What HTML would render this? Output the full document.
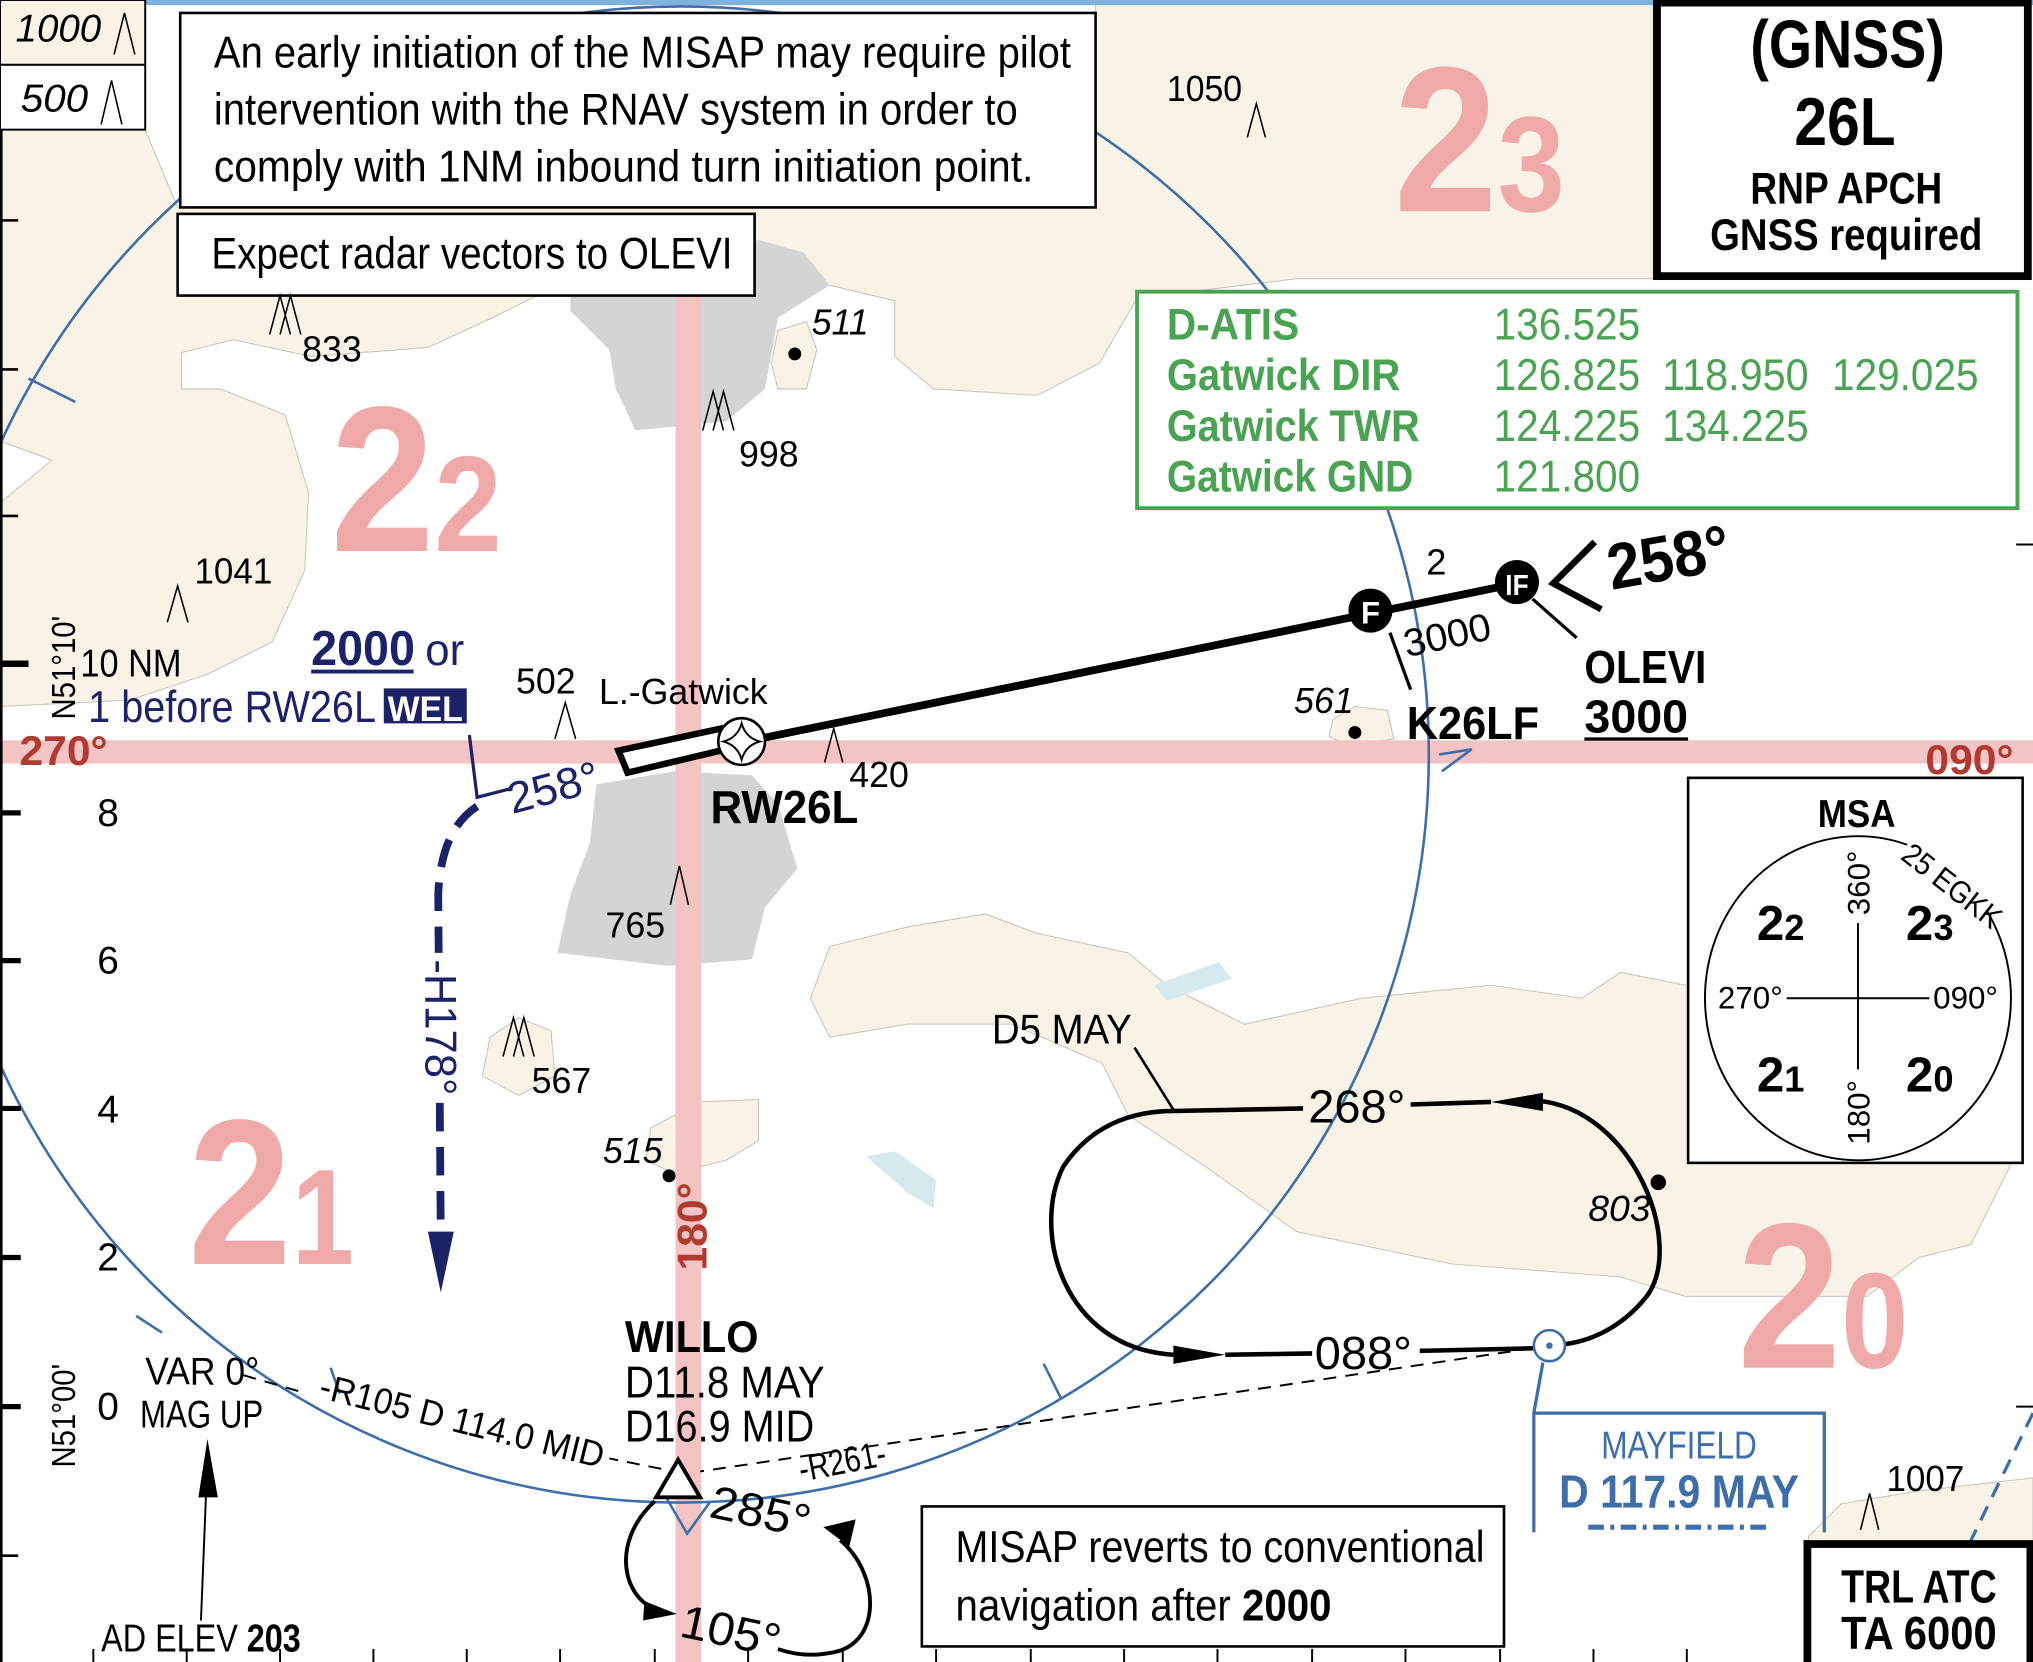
<!DOCTYPE html>
<html><head><meta charset="utf-8"><style>
html,body{margin:0;padding:0;background:#fff;width:2033px;height:1662px;overflow:hidden}
svg{display:block}
text{font-family:"Liberation Sans Narrow","Liberation Sans",sans-serif}
</style></head><body>
<svg width="2033" height="1662" viewBox="0 0 1568 1282" preserveAspectRatio="none" xmlns="http://www.w3.org/2000/svg">
<rect width="1568" height="1282" fill="#fff"/>
<g fill="#f8f3e6" stroke="#c8c4bb" stroke-width="0.8">
<path d="M0,100 L112,100 L137,160 L845,160 L845,0 L1275,0 L1275,215 L1000,215 L877,230 L848,280 L800,305 L720,300 L690,275 L690,232 L640,220 L440,215 L380,245 L330,268 L240,275 L180,262 L140,272 L140,300 L170,300 L220,320 L238,380 L235,440 L210,495 L160,520 L100,540 L0,545 L0,388 L40,355 L0,340 Z"/>
<path d="M625,770 L640,730 L700,715 L760,705 L800,720 L870,735 L900,760 L960,790 L1050,770 L1150,760 L1220,770 L1250,750 L1300,760 L1560,760 L1560,880 L1520,960 L1480,970 L1440,1000 L1300,1000 L1250,985 L1120,975 L1000,950 L930,900 L870,860 L850,820 L780,790 L700,790 L640,800 Z"/>
<path d="M600,255 L622,248 L630,270 L622,300 L600,300 L595,280 Z"/>
<path d="M1028,555 L1045,545 L1070,548 L1075,570 L1040,575 L1025,568 Z"/>
<path d="M378,800 L400,785 L425,795 L428,830 L400,845 L372,830 Z"/>
<path d="M502,870 L540,850 L585,848 L585,880 L560,895 L520,905 L498,895 Z"/>
<path d="M1395,1185 L1420,1160 L1480,1150 L1568,1140 L1568,1190 L1395,1190 Z"/>
</g>
<g fill="#d4d4d4">
<path d="M440,215 L470,205 L560,200 L585,185 L620,195 L640,220 L600,245 L590,300 L560,325 L490,332 L475,300 L470,270 L440,240 Z"/>
<path d="M460,605 L520,595 L580,598 L600,620 L615,670 L590,700 L580,740 L515,745 L430,735 L440,690 L455,650 Z"/>
</g>
<g fill="#d6e9ec">
<path d="M890,760 L940,742 L950,755 L900,772 Z"/>
<path d="M668,892 L690,888 L722,910 L720,932 L700,920 Z"/>
</g>
<rect x="521" y="200" width="20" height="1082" fill="#f4c3c3"/>
<rect x="0" y="571" width="1568" height="18" fill="#f4c3c3"/>
<rect x="0" y="0" width="1568" height="4" fill="#7fb2dc"/>
<g fill="#f0a9a9" font-weight="bold">
<text x="255" y="425" font-size="160" textLength="80" lengthAdjust="spacingAndGlyphs">2</text><text x="335" y="425" font-size="105" textLength="52" lengthAdjust="spacingAndGlyphs">2</text>
<text x="1075" y="163" font-size="160" textLength="80" lengthAdjust="spacingAndGlyphs">2</text><text x="1155" y="163" font-size="105" textLength="52" lengthAdjust="spacingAndGlyphs">3</text>
<text x="145" y="975" font-size="160" textLength="80" lengthAdjust="spacingAndGlyphs">2</text><text x="225" y="975" font-size="105" textLength="48" lengthAdjust="spacingAndGlyphs">1</text>
<text x="1340" y="1055" font-size="160" textLength="80" lengthAdjust="spacingAndGlyphs">2</text><text x="1420" y="1055" font-size="105" textLength="52" lengthAdjust="spacingAndGlyphs">0</text>
</g>
<circle cx="525" cy="582" r="577" fill="none" stroke="#3d6eaa" stroke-width="2"/>
<g stroke="#3d6eaa" stroke-width="2" fill="none">
<line x1="22" y1="292" x2="58" y2="310"/>
<line x1="105" y1="1015" x2="125" y2="1028"/>
<line x1="255" y1="1055" x2="262" y2="1075"/>
<line x1="805" y1="1052" x2="818" y2="1078"/>
<polyline points="1110,582 1135,578 1112,595"/>
<polyline points="512,1152 530,1183 548,1158"/>
</g>
<g stroke="#000" stroke-width="2">
<line x1="1" y1="100" x2="1" y2="1282"/>
<line x1="0" y1="170" x2="14" y2="170"/><line x1="0" y1="285" x2="14" y2="285"/><line x1="0" y1="398" x2="14" y2="398"/>
<line x1="0" y1="512" x2="22" y2="512" stroke-width="5"/><line x1="0" y1="627" x2="16" y2="627" stroke-width="4"/>
<line x1="0" y1="741" x2="16" y2="741" stroke-width="4"/><line x1="0" y1="855" x2="16" y2="855" stroke-width="4"/>
<line x1="0" y1="970" x2="16" y2="970" stroke-width="4"/><line x1="0" y1="1085" x2="16" y2="1085" stroke-width="4"/>
<line x1="0" y1="1200" x2="14" y2="1200"/>
</g>
<g stroke="#000" stroke-width="1.5">
<line x1="72" y1="1272" x2="72" y2="1282"/><line x1="144" y1="1272" x2="144" y2="1282"/><line x1="216" y1="1272" x2="216" y2="1282"/><line x1="288" y1="1272" x2="288" y2="1282"/><line x1="360" y1="1272" x2="360" y2="1282"/><line x1="432" y1="1272" x2="432" y2="1282"/><line x1="505" y1="1272" x2="505" y2="1282"/><line x1="577" y1="1272" x2="577" y2="1282"/><line x1="650" y1="1272" x2="650" y2="1282"/><line x1="722" y1="1272" x2="722" y2="1282"/><line x1="795" y1="1272" x2="795" y2="1282"/><line x1="867" y1="1272" x2="867" y2="1282"/><line x1="939" y1="1272" x2="939" y2="1282"/><line x1="1012" y1="1272" x2="1012" y2="1282"/><line x1="1084" y1="1272" x2="1084" y2="1282"/><line x1="1157" y1="1272" x2="1157" y2="1282"/><line x1="1229" y1="1272" x2="1229" y2="1282"/><line x1="1301" y1="1272" x2="1301" y2="1282"/>
<line x1="1555" y1="420" x2="1568" y2="420"/><line x1="1555" y1="1085" x2="1568" y2="1085"/><line x1="1555" y1="1200" x2="1568" y2="1200"/>
</g>
<g font-size="30" fill="#000">
<text x="62" y="522" textLength="78" lengthAdjust="spacingAndGlyphs">10 NM</text><text x="75" y="637">8</text><text x="75" y="751">6</text><text x="75" y="866">4</text><text x="75" y="980">2</text><text x="75" y="1095">0</text>
</g>
<text transform="translate(58,555) rotate(-90)" font-size="26" textLength="80" lengthAdjust="spacingAndGlyphs">N51°10'</text>
<text transform="translate(58,1132) rotate(-90)" font-size="26" textLength="80" lengthAdjust="spacingAndGlyphs">N51°00'</text>
<rect x="0" y="0" width="112" height="50" fill="#f8f3e6" stroke="#000" stroke-width="1.5"/>
<rect x="0" y="50" width="112" height="50" fill="#fff" stroke="#000" stroke-width="1.5"/>
<text x="12" y="32" font-size="30" font-style="italic" textLength="66" lengthAdjust="spacingAndGlyphs">1000</text>
<text x="16" y="86" font-size="30" font-style="italic" textLength="52" lengthAdjust="spacingAndGlyphs">500</text>
<g stroke="#000" stroke-width="1.2" fill="none">
<polyline points="88,42 96,10 104,42"/><polyline points="78,96 86,62 94,96"/>
</g>
<rect x="139" y="10" width="706" height="150" fill="#fff" stroke="#000" stroke-width="2"/>
<g font-size="34"><text x="165" y="52" textLength="661" lengthAdjust="spacingAndGlyphs">An early initiation of the MISAP may require pilot</text>
<text x="165" y="96" textLength="620" lengthAdjust="spacingAndGlyphs">intervention with the RNAV system in order to</text>
<text x="165" y="140" textLength="632" lengthAdjust="spacingAndGlyphs">comply with 1NM inbound turn initiation point.</text></g>
<rect x="137" y="165" width="445" height="63" fill="#fff" stroke="#000" stroke-width="2"/>
<text x="163" y="207" font-size="34" textLength="402" lengthAdjust="spacingAndGlyphs">Expect radar vectors to OLEVI</text>
<rect x="1278" y="2" width="286" height="211" fill="#fff" stroke="#000" stroke-width="6"/>
<g font-weight="bold" text-anchor="middle"><text x="1425" y="52" font-size="52" textLength="150" lengthAdjust="spacingAndGlyphs">(GNSS)</text><text x="1423" y="112" font-size="52" textLength="78" lengthAdjust="spacingAndGlyphs">26L</text>
<text x="1424" y="157" font-size="34" textLength="148" lengthAdjust="spacingAndGlyphs">RNP APCH</text><text x="1424" y="193" font-size="34" textLength="210" lengthAdjust="spacingAndGlyphs">GNSS required</text></g>
<rect x="877" y="225" width="679" height="167" fill="#fff" stroke="#4aa352" stroke-width="3"/>
<g fill="#4aa352" font-size="34"><g font-weight="bold"><text x="900" y="262" textLength="102" lengthAdjust="spacingAndGlyphs">D-ATIS</text><text x="900" y="301" textLength="180" lengthAdjust="spacingAndGlyphs">Gatwick DIR</text><text x="900" y="340" textLength="195" lengthAdjust="spacingAndGlyphs">Gatwick TWR</text><text x="900" y="379" textLength="190" lengthAdjust="spacingAndGlyphs">Gatwick GND</text></g>
<text x="1152" y="262" textLength="113" lengthAdjust="spacingAndGlyphs">136.525</text><text x="1152" y="301" textLength="113" lengthAdjust="spacingAndGlyphs">126.825</text><text x="1282" y="301" textLength="113" lengthAdjust="spacingAndGlyphs">118.950</text><text x="1413" y="301" textLength="113" lengthAdjust="spacingAndGlyphs">129.025</text>
<text x="1152" y="340" textLength="113" lengthAdjust="spacingAndGlyphs">124.225</text><text x="1282" y="340" textLength="113" lengthAdjust="spacingAndGlyphs">134.225</text><text x="1152" y="379" textLength="113" lengthAdjust="spacingAndGlyphs">121.800</text></g>
<g stroke="#000" stroke-width="1.2" fill="none">
<polyline points="962,106 969,80 976,106"/><polyline points="208,258 216,228 224,258"/><polyline points="216,258 224,228 232,258"/>
<polyline points="542,332 550,302 558,332"/><polyline points="550,332 558,302 566,332"/>
<polyline points="129,480 137,452 145,480"/><polyline points="428,570 436,542 444,570"/><polyline points="636,588 643,562 650,588"/>
<polyline points="517,698 524,668 531,698"/><polyline points="388,815 396,785 404,815"/><polyline points="396,815 404,785 412,815"/>
<polyline points="1435,1180 1442,1152 1449,1180"/>
</g>
<g font-size="28">
<text x="900" y="78" textLength="58" lengthAdjust="spacingAndGlyphs">1050</text><text x="233" y="279" textLength="46" lengthAdjust="spacingAndGlyphs">833</text><text x="570" y="360" textLength="46" lengthAdjust="spacingAndGlyphs">998</text><text x="150" y="450" textLength="60" lengthAdjust="spacingAndGlyphs">1041</text>
<text x="398" y="535" textLength="46" lengthAdjust="spacingAndGlyphs">502</text><text x="462" y="543" textLength="130" lengthAdjust="spacingAndGlyphs">L.-Gatwick</text><text x="655" y="607" textLength="46" lengthAdjust="spacingAndGlyphs">420</text><text x="467" y="723" textLength="46" lengthAdjust="spacingAndGlyphs">765</text>
<text x="410" y="843" textLength="46" lengthAdjust="spacingAndGlyphs">567</text><text x="1455" y="1150" textLength="60" lengthAdjust="spacingAndGlyphs">1007</text>
<g font-style="italic"><text x="626" y="258" textLength="44" lengthAdjust="spacingAndGlyphs">511</text><text x="998" y="550" textLength="46" lengthAdjust="spacingAndGlyphs">561</text><text x="465" y="897" textLength="46" lengthAdjust="spacingAndGlyphs">515</text><text x="1225" y="942" textLength="48" lengthAdjust="spacingAndGlyphs">803</text></g>
</g>
<g fill="#000"><circle cx="613" cy="273" r="5"/><circle cx="1045" cy="565" r="5"/><circle cx="516" cy="907" r="5"/><circle cx="1279" cy="912" r="6"/></g>
<g fill="#b03a30" font-weight="bold" font-size="32"><text x="15" y="590" textLength="68" lengthAdjust="spacingAndGlyphs">270°</text><text x="1485" y="597" textLength="68" lengthAdjust="spacingAndGlyphs">090°</text>
<text transform="translate(545,980) rotate(-90)" textLength="68" lengthAdjust="spacingAndGlyphs">180°</text></g>
<line x1="575" y1="572" x2="1170" y2="450" stroke="#000" stroke-width="6"/>
<polygon points="477,579 556,562 560,578 484,596" fill="#fff" stroke="#000" stroke-width="5"/>
<circle cx="572" cy="572" r="18" fill="#fff" stroke="#000" stroke-width="2"/>
<path d="M572,558 Q575,569 586,572 Q575,575 572,586 Q569,575 558,572 Q569,569 572,558Z" fill="none" stroke="#000" stroke-width="1.5"/>
<circle cx="1057" cy="471" r="17" fill="#000"/><text x="1057" y="481" font-size="24" font-weight="bold" fill="#fff" text-anchor="middle">F</text>
<circle cx="1170" cy="449" r="17" fill="#000"/><text x="1170" y="459" font-size="22" font-weight="bold" fill="#fff" text-anchor="middle" textLength="18" lengthAdjust="spacingAndGlyphs">IF</text>
<g stroke="#000" stroke-width="2.5"><line x1="1072" y1="488" x2="1088" y2="532"/><line x1="1182" y1="462" x2="1216" y2="492"/></g>
<polyline points="1230,418 1198,450 1235,470" fill="none" stroke="#000" stroke-width="5"/>
<text x="1100" y="443" font-size="28">2</text>
<text transform="translate(1085,507) rotate(-12)" font-size="30" textLength="68" lengthAdjust="spacingAndGlyphs">3000</text>
<text transform="translate(1243,455) rotate(-10)" font-size="50" font-weight="bold" textLength="95" lengthAdjust="spacingAndGlyphs">258°</text>
<g font-weight="bold" font-size="36"><text x="1085" y="570" textLength="102" lengthAdjust="spacingAndGlyphs">K26LF</text><text x="1222" y="527" textLength="94" lengthAdjust="spacingAndGlyphs">OLEVI</text><text x="1222" y="565" textLength="80" lengthAdjust="spacingAndGlyphs">3000</text><text x="548" y="635" textLength="114" lengthAdjust="spacingAndGlyphs">RW26L</text></g>
<line x1="1222" y1="570" x2="1302" y2="570" stroke="#000" stroke-width="2.5"/>
<g fill="#1c2268"><text x="240" y="513" font-size="38" font-weight="bold" textLength="80" lengthAdjust="spacingAndGlyphs">2000</text><text x="328" y="513" font-size="34" textLength="30" lengthAdjust="spacingAndGlyphs">or</text>
<text x="68" y="557" font-size="34" textLength="222" lengthAdjust="spacingAndGlyphs">1 before RW26L</text><rect x="296" y="531" width="64" height="27"/>
<text transform="translate(395,628) rotate(-15)" font-size="34" textLength="72" lengthAdjust="spacingAndGlyphs">258°</text></g>
<line x1="240" y1="518" x2="319" y2="518" stroke="#1c2268" stroke-width="3"/>
<text x="328" y="556" font-size="27" font-weight="bold" fill="#fff" text-anchor="middle" textLength="58" lengthAdjust="spacingAndGlyphs">WEL</text>
<polyline points="362,567 368,615 395,608" fill="none" stroke="#1c2268" stroke-width="2.5"/>
<path d="M368,622 Q340,640 338,690 L340,960" fill="none" stroke="#1c2268" stroke-width="6" stroke-dasharray="22,12"/>
<polygon points="330,950 350,950 340,997" fill="#1c2268"/>
<rect x="324" y="735" width="32" height="112" fill="#fff"/>
<text transform="translate(328,740) rotate(90)" font-size="34" fill="#1c2268" textLength="105" lengthAdjust="spacingAndGlyphs">-H178°</text>
<g fill="none" stroke="#000" stroke-width="3.5">
<path d="M905,857 L1005,855 M1088,852 L1150,850"/>
<path d="M1185,849 C1260,855 1300,960 1270,1000 C1250,1025 1225,1035 1205,1037"/>
<path d="M1183,1040 L1095,1042 M1012,1044 L945,1045"/>
<path d="M905,1045 C820,1040 795,950 820,900 C840,870 870,857 905,857"/>
</g>
<polygon points="1150,850 1190,843 1190,857" fill="#000"/>
<polygon points="905,1038 945,1045 905,1052" fill="#000"/>
<text x="1009" y="866" font-size="36" textLength="75" lengthAdjust="spacingAndGlyphs">268°</text><text x="1014" y="1056" font-size="36" textLength="75" lengthAdjust="spacingAndGlyphs">088°</text>
<text x="765" y="805" font-size="32" textLength="108" lengthAdjust="spacingAndGlyphs">D5 MAY</text>
<line x1="875" y1="808" x2="905" y2="856" stroke="#000" stroke-width="2"/>
<g stroke="#000" stroke-width="1.5" stroke-dasharray="10,7" fill="none">
<line x1="1182" y1="1040" x2="540" y2="1135"/><line x1="510" y1="1133" x2="470" y2="1125"/><line x1="230" y1="1073" x2="185" y2="1060"/>
</g>
<text transform="translate(245,1078) rotate(14)" font-size="28" textLength="225" lengthAdjust="spacingAndGlyphs">-R105 D 114.0 MID</text>
<text transform="translate(618,1143) rotate(-11)" font-size="28" textLength="68" lengthAdjust="spacingAndGlyphs">-R261-</text>
<circle cx="1195" cy="1038" r="12" fill="#fff" stroke="#3d6eaa" stroke-width="2"/><circle cx="1195" cy="1038" r="2.5" fill="#3d6eaa"/>
<polyline points="1190,1051 1183,1090 1183,1182" fill="none" stroke="#3d6eaa" stroke-width="2.5"/>
<polyline points="1183,1090 1407,1090 1407,1182" fill="none" stroke="#3d6eaa" stroke-width="2.5"/>
<text x="1295" y="1125" font-size="30" fill="#3d6eaa" text-anchor="middle" textLength="120" lengthAdjust="spacingAndGlyphs">MAYFIELD</text>
<text x="1295" y="1163" font-size="36" font-weight="bold" fill="#3d6eaa" text-anchor="middle" textLength="185" lengthAdjust="spacingAndGlyphs">D 117.9 MAY</text>
<line x1="1225" y1="1178" x2="1365" y2="1178" stroke="#3d6eaa" stroke-width="4" stroke-dasharray="12,5,3,5"/>
<line x1="1568" y1="1090" x2="1490" y2="1250" stroke="#3d6eaa" stroke-width="2.5" stroke-dasharray="12,8"/>
<polygon points="523,1126 506,1155 540,1155" fill="#fff" stroke="#000" stroke-width="3"/>
<g font-size="34"><text x="482" y="1043" font-weight="bold" textLength="103" lengthAdjust="spacingAndGlyphs">WILLO</text><text x="482" y="1078" textLength="154" lengthAdjust="spacingAndGlyphs">D11.8 MAY</text><text x="482" y="1112" textLength="146" lengthAdjust="spacingAndGlyphs">D16.9 MID</text></g>
<text transform="translate(546,1170) rotate(12)" font-size="36" textLength="78" lengthAdjust="spacingAndGlyphs">285°</text>
<text transform="translate(523,1262) rotate(12)" font-size="36" textLength="78" lengthAdjust="spacingAndGlyphs">105°</text>
<g fill="none" stroke="#000" stroke-width="3">
<path d="M505,1158 C470,1190 480,1235 510,1243"/>
<path d="M648,1188 C680,1215 680,1270 640,1275 C625,1278 612,1276 600,1272"/>
</g>
<polygon points="497,1235 522,1245 496,1250" fill="#000"/>
<polygon points="635,1178 660,1172 655,1193" fill="#000"/>
<text x="112" y="1068" font-size="30" textLength="88" lengthAdjust="spacingAndGlyphs">VAR 0°</text><text x="108" y="1101" font-size="30" textLength="95" lengthAdjust="spacingAndGlyphs">MAG UP</text>
<line x1="155" y1="1250" x2="160" y2="1125" stroke="#000" stroke-width="1.5"/>
<polygon points="153,1155 160,1110 168,1155" fill="#000"/>
<text x="78" y="1274" font-size="30" textLength="154" lengthAdjust="spacingAndGlyphs">AD ELEV <tspan font-weight="bold">203</tspan></text>
<rect x="711" y="1162" width="449" height="108" fill="#fff" stroke="#000" stroke-width="2"/>
<text x="737" y="1205" font-size="34" textLength="408" lengthAdjust="spacingAndGlyphs">MISAP reverts to conventional</text>
<text x="737" y="1250" font-size="34" textLength="290" lengthAdjust="spacingAndGlyphs">navigation after <tspan font-weight="bold">2000</tspan></text>
<rect x="1394" y="1191" width="172" height="95" fill="#fff" stroke="#000" stroke-width="6"/>
<g font-weight="bold" font-size="36" text-anchor="middle"><text x="1480" y="1236" textLength="120" lengthAdjust="spacingAndGlyphs">TRL ATC</text><text x="1480" y="1272" textLength="120" lengthAdjust="spacingAndGlyphs">TA 6000</text></g>
<rect x="1302" y="600" width="258" height="297" fill="#fff" stroke="#000" stroke-width="2"/>
<text x="1432" y="638" font-size="30" font-weight="bold" text-anchor="middle" textLength="60" lengthAdjust="spacingAndGlyphs">MSA</text>
<ellipse cx="1433" cy="770" rx="118" ry="125" fill="none" stroke="#000" stroke-width="1.5"/>
<rect x="1470" y="640" width="80" height="40" fill="#fff" transform="rotate(38 1505 665)"/>
<g stroke="#000" stroke-width="1.5"><line x1="1433" y1="712" x2="1433" y2="825"/><line x1="1378" y1="770" x2="1488" y2="770"/></g>
<g font-size="24" text-anchor="middle"><text x="1350" y="778" textLength="50" lengthAdjust="spacingAndGlyphs">270°</text><text x="1516" y="778" textLength="50" lengthAdjust="spacingAndGlyphs">090°</text></g>
<text transform="translate(1442,706) rotate(-90)" font-size="24" textLength="50" lengthAdjust="spacingAndGlyphs">360°</text>
<text transform="translate(1442,883) rotate(-90)" font-size="24" textLength="50" lengthAdjust="spacingAndGlyphs">180°</text>
<text transform="translate(1465,662) rotate(38)" font-size="24" textLength="90" lengthAdjust="spacingAndGlyphs">25 EGKK</text>
<g font-weight="bold"><text x="1355" y="725" font-size="38">2<tspan font-size="28">2</tspan></text><text x="1470" y="725" font-size="38">2<tspan font-size="28">3</tspan></text>
<text x="1355" y="842" font-size="38">2<tspan font-size="28">1</tspan></text><text x="1470" y="842" font-size="38">2<tspan font-size="28">0</tspan></text></g>
</svg>
</body></html>
